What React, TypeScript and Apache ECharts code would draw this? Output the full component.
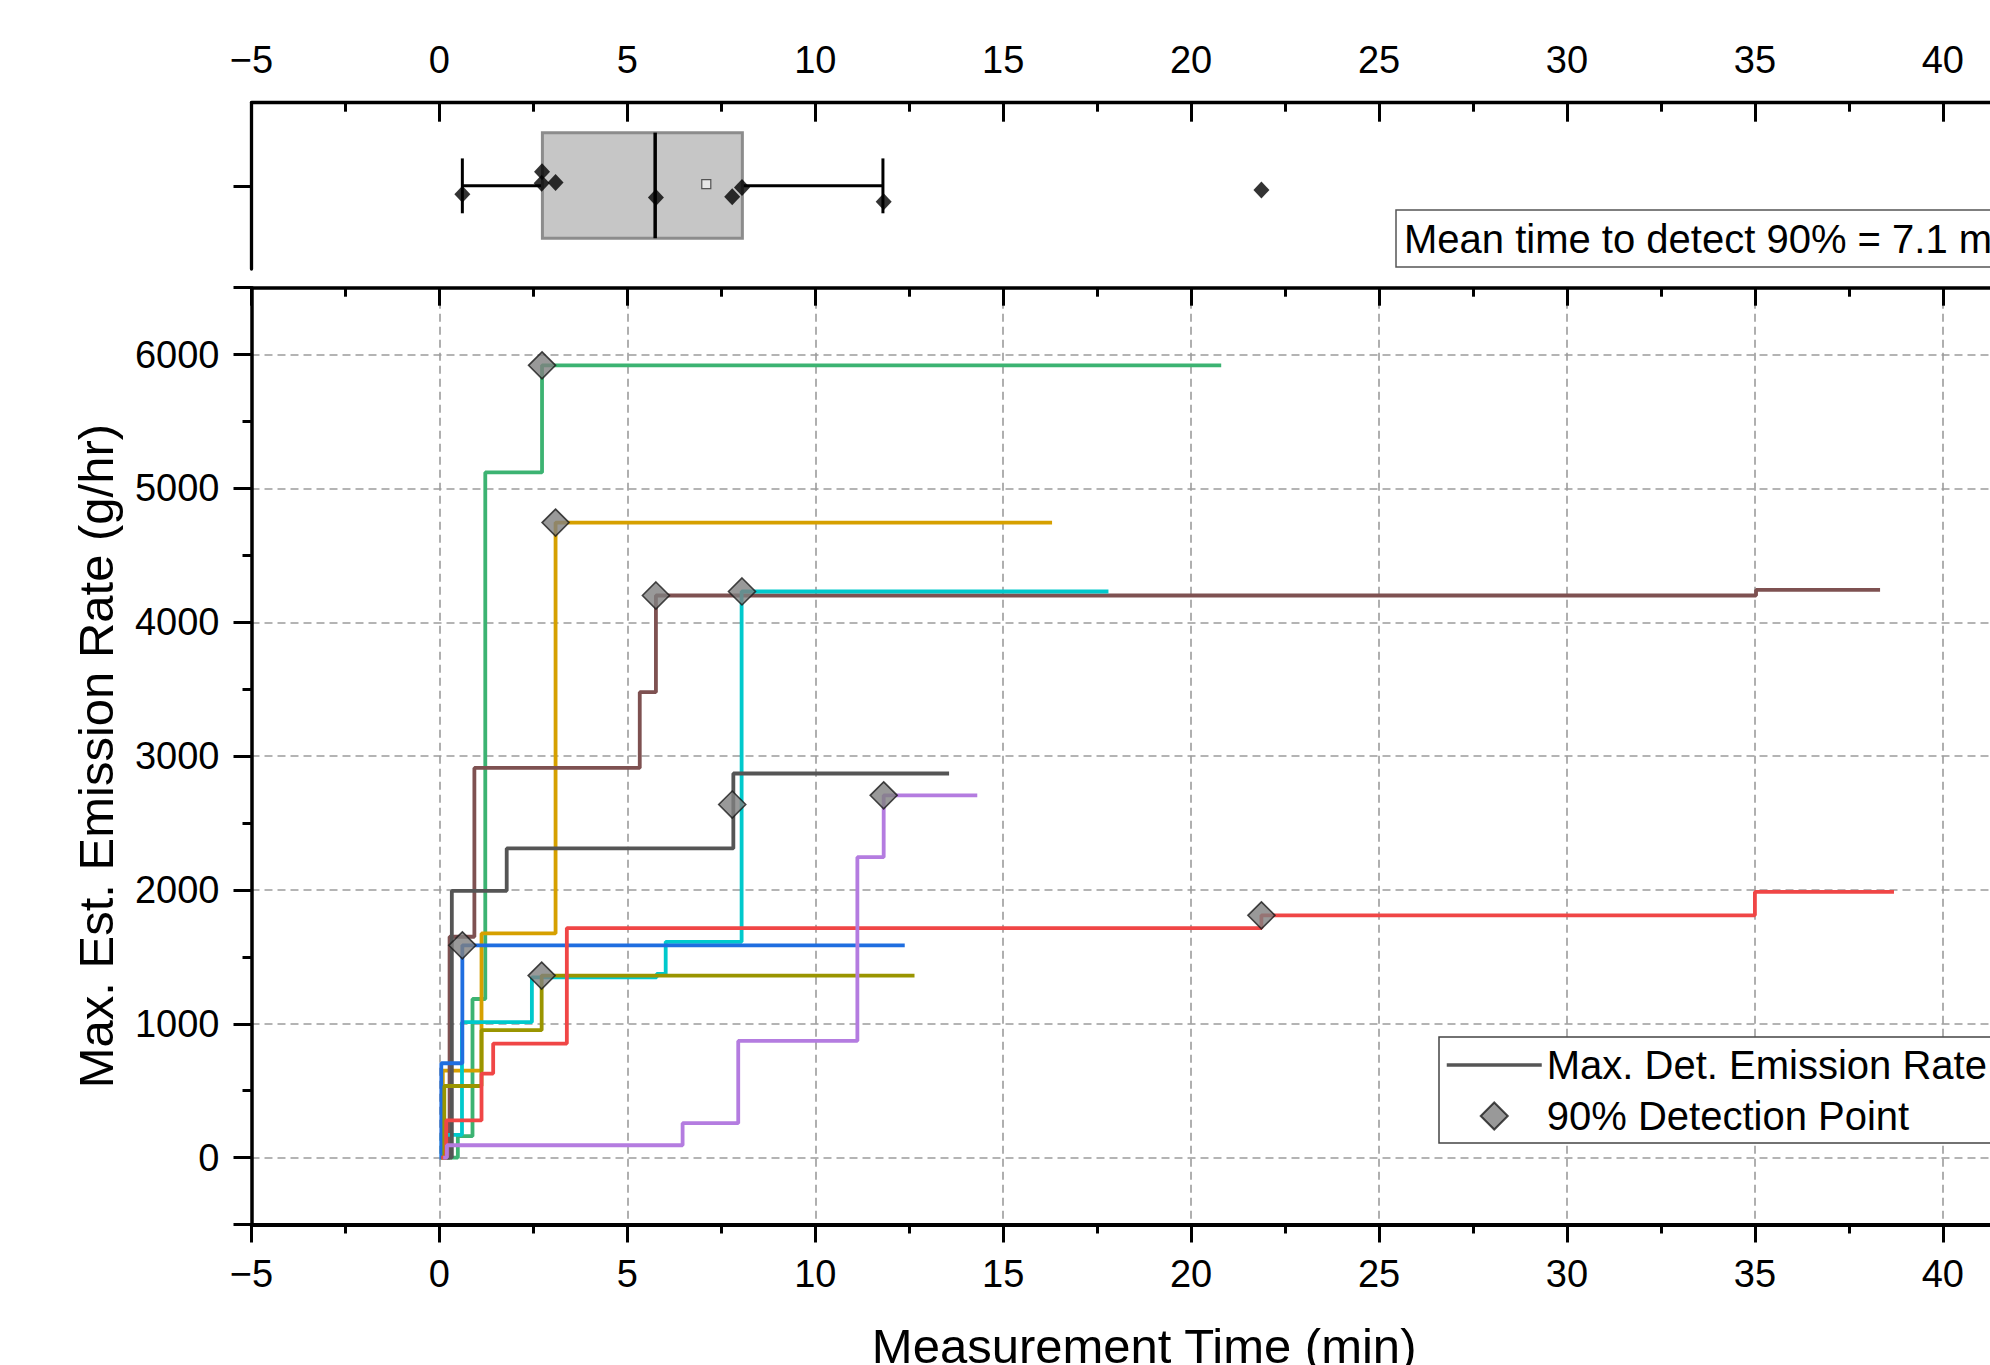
import React, { useEffect, useRef } from 'react';
import * as echarts from 'echarts';

const FONT = '"Liberation Sans", Arial, sans-serif';

// ---- Step traces: [time (min), max. det. emission rate (g/hr)] ----
const greenSteps = [[0.05, 0], [0.49, 160], [0.88, 1185], [1.22, 5120], [2.73, 5920], [20.8, 5920]];
const goldSteps = [[0.05, 0], [0.09, 650], [1.12, 1675], [3.09, 4745], [16.3, 4745]];
const brownSteps = [[0.1, 0], [0.27, 1650], [0.93, 2912], [5.33, 3478], [5.76, 4200], [35.03, 4242], [38.33, 4242]];
const cyanSteps = [[0.03, 0], [0.06, 170], [0.6, 1012], [2.46, 1347], [5.78, 1372], [6.02, 1612], [8.04, 4230], [17.8, 4230]];
const greySteps = [[0.1, 0], [0.33, 1993], [1.79, 2310], [7.82, 2870], [13.56, 2870]];
const blueSteps = [[0.0, 0], [0.05, 705], [0.61, 1586], [12.38, 1586]];
const oliveSteps = [[0.05, 0], [0.13, 535], [1.12, 952], [2.72, 1360], [12.64, 1360]];
const redSteps = [[0.05, 0], [0.18, 278], [1.12, 628], [1.43, 852], [3.39, 1715], [21.87, 1810], [35.0, 1985], [38.7, 1985]];
const purpleSteps = [[0.1, 0], [0.2, 92], [6.47, 257], [7.95, 872], [11.12, 2245], [11.82, 2707], [14.31, 2707]];

const traceData = [greenSteps, goldSteps, brownSteps, cyanSteps, greySteps, blueSteps, oliveSteps, redSteps, purpleSteps];
const traceNames = ['Trace 1', 'Trace 2', 'Trace 3', 'Trace 4', 'Trace 5', 'Trace 6', 'Trace 7', 'Trace 8', 'Trace 9'];
const traceColors = ['#3cb372', '#d6a000', '#7e5151', '#00c9cc', '#555555', '#1f6ee0', '#9a9500', '#f04646', '#b47ce0'];

// ---- 90% detection points ----
const detectionTimes = [0.61, 2.73, 2.72, 3.09, 5.76, 7.79, 8.05, 11.82, 21.87];
const detectionRates = [1586, 5920, 1360, 4745, 4200, 2638, 4230, 2707, 1810];
const boxJitter = [-0.1, 0.17, 0.03, 0.04, -0.14, -0.13, -0.02, -0.19, -0.05];

// ---- Box statistics: [min whisker, Q1, median, Q3, max whisker] ----
const boxStats = [0.61, 2.74, 5.74, 8.06, 11.8];
const meanTime = [7.1];

const xTickValues = [-5, 0, 5, 10, 15, 20, 25, 30, 35, 40];
const yTickValues = [0, 1000, 2000, 3000, 4000, 5000, 6000];

const fmtNum = (v: number) => (v < 0 ? '\u2212' + Math.abs(v) : String(v));

export default function App() {
  const ref = useRef<HTMLDivElement>(null);

  useEffect(() => {
    if (!ref.current) return;
    const chart = echarts.init(ref.current, undefined, { renderer: 'svg' });

    const gridLeft = 251.5;
    const gridRightPx = 2036.8;

    const axisFont = { fontSize: 38, fontFamily: FONT, color: '#000' };
    const dashed = { color: '#9c9c9c', width: 1.6, type: [8, 5] as any };

    const xCommon = {
      type: 'value',
      min: -5,
      max: 42.5,
      interval: 5,
    };

    const lineSeries = traceData.map((d, i) => ({
      type: 'line',
      name: traceNames[i],
      xAxisIndex: 0,
      yAxisIndex: 1,
      data: d,
      step: 'end',
      symbol: 'none',
      showSymbol: false,
      lineStyle: { color: traceColors[i], width: 3.8 },
      itemStyle: { color: traceColors[i] },
      z: 3,
    }));

    const option: any = {
      animation: false,
      backgroundColor: '#fff',
      grid: [
        { left: gridLeft, width: gridRightPx - gridLeft, top: 102.7, height: 166.3, containLabel: false, outerBoundsMode: 'none' },
        { left: gridLeft, width: gridRightPx - gridLeft, top: 287.7, height: 936.8, containLabel: false, outerBoundsMode: 'none' },
      ],
      xAxis: [
        {
          ...xCommon,
          gridIndex: 1,
          position: 'bottom',
          name: 'Measurement Time (min)',
          nameLocation: 'middle',
          nameGap: 97,
          nameTextStyle: { fontSize: 49, fontFamily: FONT, color: '#000' },
          axisLine: { show: true, onZero: false, lineStyle: { color: '#000', width: 4 } },
          axisTick: { show: true, length: 18, lineStyle: { color: '#000', width: 3 } },
          minorTick: { show: true, splitNumber: 2, length: 9, lineStyle: { color: '#000', width: 3 } },
          axisLabel: {
            ...axisFont,
            margin: 30,
            formatter: (v: number) => (xTickValues.includes(v) ? fmtNum(v) : ''),
          },
          splitLine: { show: true, lineStyle: dashed },
        },
        {
          ...xCommon,
          gridIndex: 1,
          position: 'top',
          axisLine: { show: true, onZero: false, lineStyle: { color: '#000', width: 3.5 } },
          axisTick: { show: true, inside: true, length: 18, lineStyle: { color: '#000', width: 3 } },
          minorTick: { show: true, splitNumber: 2, length: 9, lineStyle: { color: '#000', width: 3 } },
          axisLabel: { show: false },
          splitLine: { show: false },
        },
        {
          ...xCommon,
          gridIndex: 0,
          position: 'top',
          axisLine: { show: true, onZero: false, lineStyle: { color: '#000', width: 3.3 } },
          axisTick: { show: true, inside: true, length: 19, lineStyle: { color: '#000', width: 3 } },
          minorTick: { show: true, splitNumber: 2, length: 9, lineStyle: { color: '#000', width: 3 } },
          axisLabel: {
            ...axisFont,
            margin: 24,
            formatter: (v: number) => (xTickValues.includes(v) ? fmtNum(v) : ''),
          },
          splitLine: { show: false },
        },
      ],
      yAxis: [
        {
          type: 'value',
          gridIndex: 0,
          min: -1,
          max: 1,
          axisLine: { show: true, onZero: false, lineStyle: { color: '#000', width: 3.3 } },
          axisTick: { show: true, length: 18, customValues: [0], lineStyle: { color: '#000', width: 3 } },
          axisLabel: { show: false },
          splitLine: { show: false },
        },
        {
          type: 'value',
          gridIndex: 1,
          min: -500,
          max: 6500,
          splitNumber: 7,
          name: 'Max. Est. Emission Rate (g/hr)',
          nameLocation: 'middle',
          nameGap: 131,
          nameTextStyle: { fontSize: 49, fontFamily: FONT, color: '#000' },
          axisLine: { show: true, onZero: false, lineStyle: { color: '#000', width: 3.5 } },
          axisTick: { show: true, length: 18, lineStyle: { color: '#000', width: 3 } },
          minorTick: { show: true, splitNumber: 2, length: 9, lineStyle: { color: '#000', width: 3 } },
          axisLabel: {
            ...axisFont,
            margin: 32,
            formatter: (v: number) => (yTickValues.includes(v) ? String(v) : ''),
          },
          splitLine: { show: true, lineStyle: dashed },
        },
      ],
      legend: {
        show: true,
        orient: 'vertical',
        left: 1439,
        top: 1037,
        padding: [8, 40, 7, 6],
        itemGap: 11,
        itemWidth: 95,
        itemHeight: 27,
        symbolKeepAspect: true,
        backgroundColor: '#fff',
        borderColor: '#444',
        borderWidth: 1.5,
        selectedMode: false,
        textStyle: { fontSize: 40, fontFamily: FONT, color: '#000' },
        data: [
          {
            name: 'Max. Det. Emission Rate',
            itemStyle: { opacity: 0 },
            lineStyle: { width: 3.5, color: '#555' },
          },
          { name: '90% Detection Point', icon: 'path://M1,0 L2,1 L1,2 L0,1 Z' },
        ],
      },
      graphic: [
        {
          type: 'rect',
          z: 20,
          shape: { x: 1396, y: 210, width: 760, height: 57 },
          style: { fill: '#fff', stroke: '#555', lineWidth: 1.5 },
        },
        {
          type: 'text',
          z: 21,
          x: 1404,
          y: 238.5,
          style: {
            text: 'Mean time to detect 90% = 7.1 min',
            fontSize: 40,
            fontFamily: FONT,
            fill: '#000',
            align: 'left',
            verticalAlign: 'middle',
          },
        },
      ],
      series: [
        ...lineSeries,
        {
          type: 'line',
          name: 'Max. Det. Emission Rate',
          xAxisIndex: 0,
          yAxisIndex: 1,
          data: [],
          symbol: 'none',
          lineStyle: { color: '#555', width: 3.5 },
          itemStyle: { color: '#555' },
        },
        {
          type: 'scatter',
          name: '90% Detection Point',
          xAxisIndex: 0,
          yAxisIndex: 1,
          data: detectionTimes.map((t, i) => [t, detectionRates[i]]),
          symbol: 'diamond',
          symbolSize: 27,
          symbolKeepAspect: true,
          itemStyle: { color: '#808080', borderColor: '#1a1a1a', borderWidth: 1.6 },
          z: 6,
        },
        {
          type: 'custom',
          name: 'box',
          xAxisIndex: 2,
          yAxisIndex: 0,
          data: [[...boxStats, 0]],
          encode: { x: [0, 1, 2, 3, 4], y: 5 },
          z: 3,
          renderItem: (params: any, api: any) => {
            const v = [0, 1, 2, 3, 4].map((i) => api.value(i));
            const c = (x: number, y: number) => api.coord([x, y]);
            const boxTop = 0.64;
            const boxBot = -0.63;
            const cap = 0.33;
            const ln = (a: number[], b: number[], w: number) => ({
              type: 'line',
              shape: { x1: a[0], y1: a[1], x2: b[0], y2: b[1] },
              style: { stroke: '#000', lineWidth: w },
            });
            const p1 = c(v[1], boxTop);
            const p2 = c(v[3], boxBot);
            return {
              type: 'group',
              children: [
                ln(c(v[0], 0), c(v[1], 0), 3),
                ln(c(v[3], 0), c(v[4], 0), 3),
                ln(c(v[0], cap), c(v[0], -cap), 3),
                ln(c(v[4], cap), c(v[4], -cap), 3),
                {
                  type: 'rect',
                  shape: { x: p1[0], y: p1[1], width: p2[0] - p1[0], height: p2[1] - p1[1] },
                  style: { fill: '#c6c6c6', stroke: '#8c8c8c', lineWidth: 3 },
                },
                ln(c(v[2], boxTop), c(v[2], boxBot), 3.5),
              ],
            };
          },
        },
        {
          type: 'scatter',
          name: 'box points',
          xAxisIndex: 2,
          yAxisIndex: 0,
          data: detectionTimes.map((t, i) => [t, boxJitter[i]]),
          symbol: 'diamond',
          symbolSize: [16, 17],
          itemStyle: { color: '#000' },
          z: 5,
        },
        {
          type: 'scatter',
          name: 'mean',
          xAxisIndex: 2,
          yAxisIndex: 0,
          data: meanTime.map((m) => [m, 0.02]),
          symbol: 'rect',
          symbolSize: 9,
          itemStyle: { color: '#eeeeee', borderColor: '#333', borderWidth: 1.2 },
          z: 5,
        },
      ],
    };

    chart.setOption(option);
    return () => chart.dispose();
  }, []);

  return (
    <div
      style={{
        position: 'fixed',
        left: 0,
        top: 0,
        width: 1990,
        height: 1365,
        overflow: 'hidden',
        background: '#fff',
      }}
    >
      <div ref={ref} style={{ width: 2100, height: 1420 }} />
    </div>
  );
}
